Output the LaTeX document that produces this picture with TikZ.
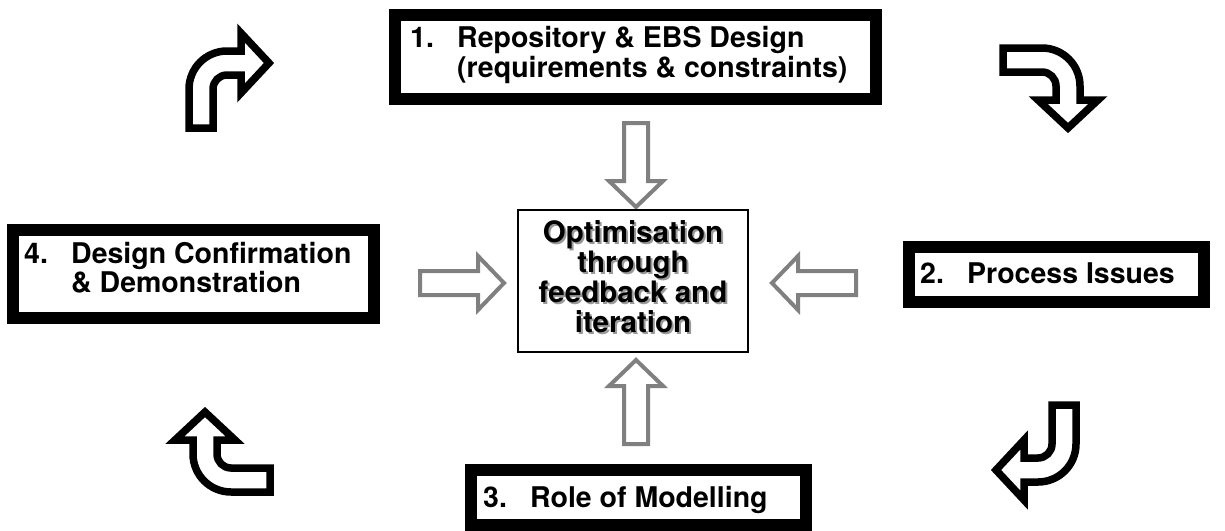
\documentclass[tikz,border=0pt]{standalone}
\usepackage{fontspec}
\setmainfont{TeX Gyre Heros}
\begin{document}
\begin{tikzpicture}[x=1pt,y=1pt,
  heavybox/.style={draw=black, line width=12pt, fill=white, rectangle, inner sep=0pt},
  centerbox/.style={draw=black, line width=1.3pt, rectangle, inner sep=0pt},
  lbl/.style={inner sep=0pt, anchor=base west, font=\fontsize{28.5}{30}\selectfont\bfseries},
  ctr/.style={inner sep=0pt, anchor=base, font=\fontsize{29.5}{30}\selectfont\bfseries},
  ctrshadow/.style={ctr, text=black!40},
  bentstyle/.style={draw=black, fill=white, line width=7.5pt, line join=miter, miter limit=10},
  blockstyle/.style={draw=black!50, fill=white, line width=4pt, line join=miter, miter limit=10},
  bentarrow/.pic={
    \path[bentstyle] (-12,-65) -- (-12,-26) arc[start angle=180,end angle=90,radius=38]
      -- (40,12) -- (40,30) -- (68,0) -- (40,-30) -- (40,-12) -- (26,-12)
      arc[start angle=90,end angle=180,radius=14] -- (12,-65) -- cycle;
  },
  blockarrow/.pic={
    \path[blockstyle] (0,-12) -- (58,-12) -- (58,-27) -- (84,0) -- (58,27) -- (58,12) -- (0,12) -- cycle;
  }
]
\useasboundingbox (0,0) rectangle (1225,-530);

% grey block arrows towards the centre
\path (420,-283) pic {blockarrow};
\path (856,-283) pic[rotate=180] {blockarrow};
\path (636,-123) pic[rotate=-90] {blockarrow};
\path (636,-444) pic[rotate=90] {blockarrow};

% centre box
\node[centerbox, minimum width=230pt, minimum height=142pt] (ctrbox) at (633,-281) {};
\foreach \t/\yy [count=\i] in {Optimisation/242, through/272, feedback and/302, iteration/332}{
  \node[ctrshadow] (cs\i) at (635,-\yy-2) {\t};
  \node[ctr] (ct\i) at (633,-\yy) {\t};
}

% box 1
\node[heavybox, minimum width=481pt, minimum height=84pt] (box1) at (635.5,-57) {};
\node[lbl] (n1) at (410,-47) {1.};
\node[lbl] (t1a) at (457,-47) {Repository \& EBS Design};
\node[lbl] (t1b) at (457,-77) {(requirements \& constraints)};

% box 2
\node[heavybox, minimum width=295pt, minimum height=55pt] (box2) at (1056.5,-274.5) {};
\node[lbl] (n2) at (920,-283) {2.};
\node[lbl] (t2) at (967,-283) {Process Issues};

% box 3
\node[heavybox, minimum width=335pt, minimum height=55pt] (box3) at (638.5,-497.5) {};
\node[lbl] (n3) at (483,-507) {3.};
\node[lbl] (t3) at (530,-507) {Role of Modelling};

% box 4
\node[heavybox, minimum width=361pt, minimum height=88pt] (box4) at (193.5,-274) {};
\node[lbl] (n4) at (24,-263) {4.};
\node[lbl] (t4a) at (71,-263) {Design Confirmation};
\node[lbl] (t4b) at (71,-292) {\& Demonstration};

% black bent arrows (cycle)
\path (201,-63) pic {bentarrow};
\path (1068,-60) pic[rotate=-90] {bentarrow};
\path (1064,-470) pic[rotate=180] {bentarrow};
\path (205,-480) pic[rotate=90] {bentarrow};
\end{tikzpicture}
\end{document}
